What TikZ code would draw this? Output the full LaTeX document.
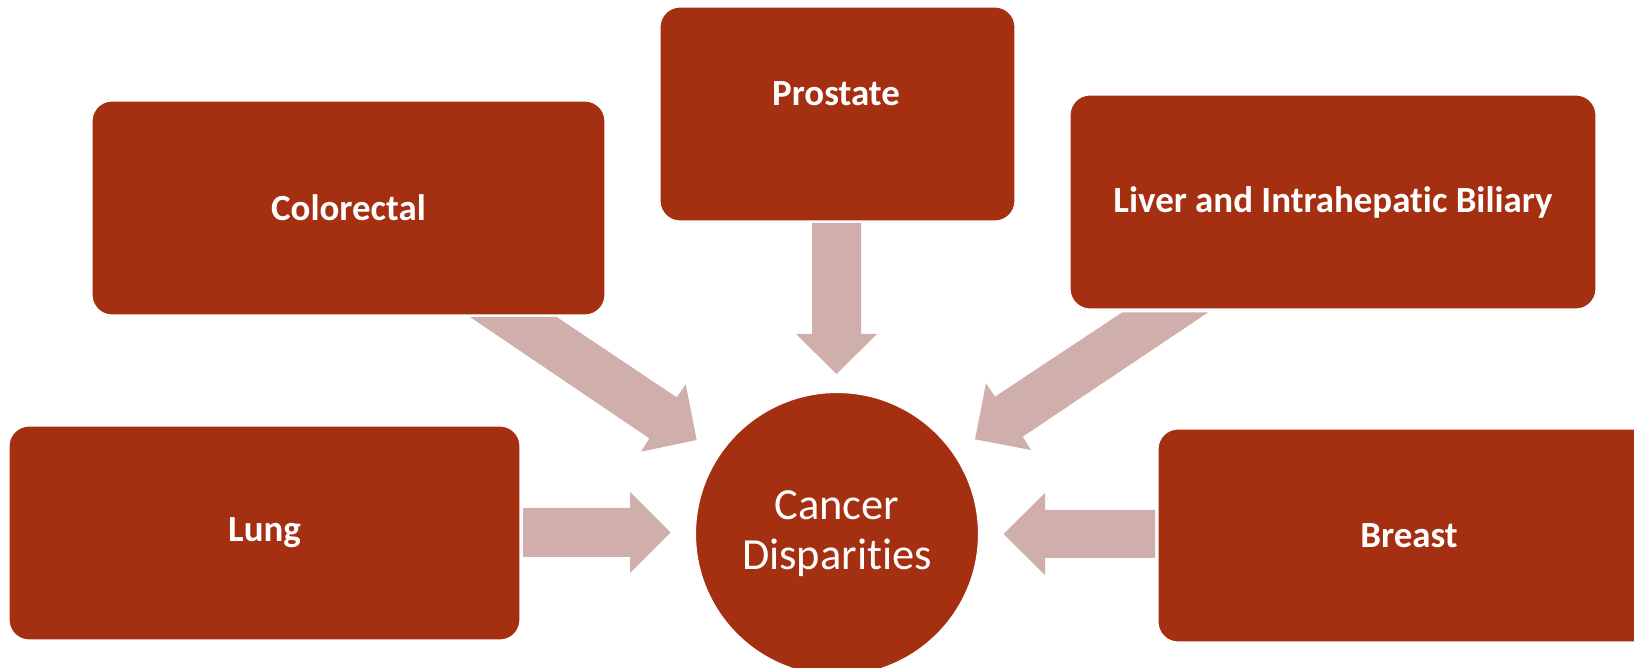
\documentclass[tikz,border=0pt]{standalone}
\usepackage{fontspec}
\setmainfont{Carlito}[Ligatures=NoCommon]
\usetikzlibrary{calc}
\definecolor{boxred}{RGB}{164,47,17}
\definecolor{arrowpink}{RGB}{208,174,171}
\begin{document}
\begin{tikzpicture}[x=0.02cm,y=-0.02cm,
  box/.style={rectangle, rounded corners=0.4cm, fill=boxred, draw=white, line width=0.6pt,
    text=white, font=\bfseries\fontsize{21}{25}\selectfont, inner sep=0pt, outer sep=0pt},
  hub/.style={circle, fill=boxred, draw=white, line width=0.6pt, minimum size=5.66cm,
    text=white, align=center, font=\fontsize{25.3}{28.5}\selectfont, inner sep=0pt},
  boxtext/.style={text=white, font=\bfseries\fontsize{21}{25}\selectfont, inner sep=0pt},
  blockarrow/.style={fill=arrowpink}]
\useasboundingbox (0,0) rectangle (1634,668);
\clip (0,0) rectangle (1634,668);

% outer boxes
\node[box, minimum width=10.26cm, minimum height=4.28cm] (colorectal) at (348.5,208) {Colorectal};
\node[box, minimum width=7.1cm, minimum height=4.28cm] (prostate) at (837.5,114) {};
\node[boxtext] (prostatetext) at (836,94) {Prostate};
\node[box, minimum width=10.52cm, minimum height=4.28cm] (liver) at (1333,202) {Liver and Intrahepatic Biliary};
\node[box, minimum width=10.22cm, minimum height=4.28cm] (lung) at (264.5,533) {Lung};
\node[box, minimum width=10.04cm, minimum height=4.26cm] (breast) at (1409,535.5) {Breast};

% central circle
\node[hub] (hub) at (837,534) {Cancer\\Disparities};

% block arrows pointing to the centre
\fill[blockarrow] (812,223) -- (861,223) -- (861,334) -- (877,334) -- (836.5,374)
  -- (796,334) -- (812,334) -- cycle;
\fill[blockarrow] (523,508) -- (630,508) -- (630,492) -- (670.5,532.5) -- (630,573)
  -- (630,557) -- (523,557) -- cycle;
\fill[blockarrow] (1155,510) -- (1045,510) -- (1045,493) -- (1003.5,534) -- (1045,575)
  -- (1045,558) -- (1155,558) -- cycle;
\fill[blockarrow] (470,317) -- (556.7,317) -- (676.7,397.3) -- (685.7,384.3) -- (696.7,440)
  -- (641,451.7) -- (649.3,438.3) -- cycle;
\fill[blockarrow] (1208.3,312.3) -- (1122.3,312.3) -- (995,396.7) -- (986,383.3) -- (975,439.3)
  -- (1031,450) -- (1022.7,436.7) -- cycle;
\end{tikzpicture}
\end{document}
